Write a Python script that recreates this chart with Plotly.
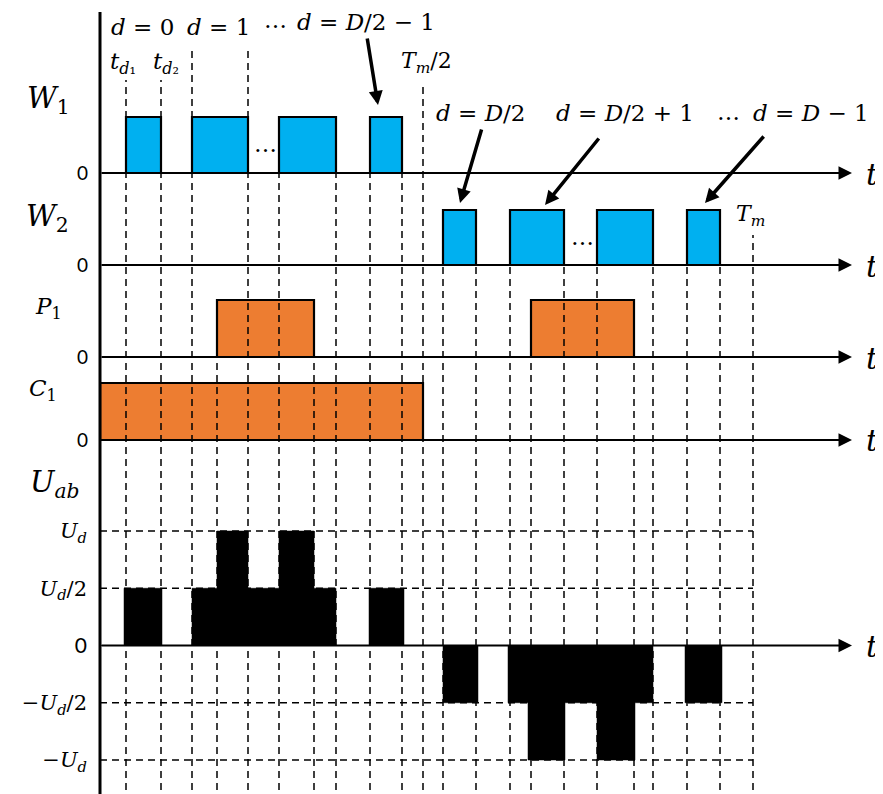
import plotly.graph_objects as go

W, H = 883, 794
OFF = 8            # the page body margin that offsets the figure
AX_PX = 100        # page x of the vertical axis
ML = AX_PX - OFF   # left margin of the figure

# ---------------- data (time units, origin at the vertical axis) ----------------
w1_start = [26, 92, 179, 270]
w1_end = [61, 148, 236, 302]
w2_start = [343, 410, 497, 587]
w2_end = [376, 464, 553, 620]
p1_start = [117, 431]
p1_end = [214, 534]
c1_start = [0]
c1_end = [323]
t_half = 323      # T_m/2
t_m = 653         # T_m
t_axis_end = 752  # end of the time arrows

# U_ab: breakpoints and level (in units of U_d) after each breakpoint
uab_t = [0, 24, 62, 92, 117, 148, 179, 214, 236, 269, 304, 343, 378, 408, 428,
         465, 497, 535, 553, 585, 622, 653]
uab_v = [0, 0.5, 0, 0.5, 1, 0.5, 1, 0.5, 0, 0.5, 0, -0.5, 0, -0.5, -1, -0.5,
         -1, -0.5, 0, -0.5, 0]
uab_tickvals = [1, 0.5, 0, -0.5, -1]
uab_ticktext = ["<i>U</i><sub><i>d</i></sub>", "<i>U</i><sub><i>d</i></sub>/2",
                "<span style='font-family:Lato'>0</span>",
                "−<i>U</i><sub><i>d</i></sub>/2", "−<i>U</i><sub><i>d</i></sub>"]
uab_grid = [1, 0.5, -0.5, -1]

BLUE = "#00B0F0"
ORANGE = "#ED7D31"
SERIF = "DejaVu Serif"
SANS = "Lato"


def xp(px):
    """page pixel x -> paper fraction"""
    return (px - AX_PX) / (W - ML)


def yp(py):
    """page pixel y -> paper fraction"""
    return 1 - (py - OFF) / H


def axis_cfg(py_lo, py_hi, lo, hi, pad=8):
    ppu = (py_lo - py_hi) / (hi - lo)
    return dict(domain=[yp(py_lo + pad), yp(py_hi - pad)],
                range=[lo - pad / ppu, hi + pad / ppu])


# panel geometry: page pixel of level 0 and of level 1
panels = [
    ("y", 173, 117),   # W1
    ("y2", 265, 210),  # W2
    ("y3", 357, 300),  # P1
    ("y4", 440, 383),  # C1
]
uab_cfg = axis_cfg(760, 531, -1, 1)

fig = go.Figure()


def pulses(starts, ends, yref, color):
    for s, e in zip(starts, ends):
        fig.add_trace(go.Scatter(
            x=[s, s, e, e, s], y=[0, 1, 1, 0, 0], mode="lines",
            fill="toself", fillcolor=color,
            line=dict(color="black", width=2.2),
            yaxis=yref, hoverinfo="skip"))


pulses(w1_start, w1_end, "y", BLUE)
pulses(w2_start, w2_end, "y2", BLUE)
pulses(p1_start, p1_end, "y3", ORANGE)
pulses(c1_start, c1_end, "y4", ORANGE)

# U_ab staircase
ux, uy = [uab_t[0]], [0]
for i in range(len(uab_v)):
    ux += [uab_t[i], uab_t[i + 1]]
    uy += [uab_v[i], uab_v[i]]
ux += [uab_t[-1], uab_t[0]]
uy += [0, 0]
fig.add_trace(go.Scatter(x=ux, y=uy, mode="lines", fill="toself",
                         fillcolor="black", line=dict(color="black", width=0.5),
                         yaxis="y5", hoverinfo="skip"))

shapes = []
dash = dict(color="black", width=1.5, dash="7px,5px")
# vertical guide lines
guides = []
for t in w1_start[:1] + w1_end[:1]:
    guides.append((t, yp(80)))
for t in w1_start[1:2] + w1_end[1:2]:
    guides.append((t, yp(50)))
for t in w1_start[2:] + w1_end[2:]:
    guides.append((t, yp(117)))
guides.append((t_half, yp(85)))
for t in w2_start + w2_end:
    guides.append((t, yp(210)))
for t in p1_start + p1_end:
    guides.append((t, yp(300)))
guides.append((t_m, yp(235)))
for t, top in guides:
    shapes.append(dict(type="line", xref="x", yref="paper", x0=t, x1=t,
                       y0=0, y1=top, line=dash, layer="above"))
# U_ab horizontal grid
for lv in uab_grid:
    shapes.append(dict(type="line", xref="x", yref="y5", x0=0, x1=t_m,
                       y0=lv, y1=lv, line=dash, layer="above"))
# main vertical axis
shapes.append(dict(type="line", xref="paper", yref="paper", x0=0, x1=0,
                   y0=0, y1=yp(12), line=dict(color="black", width=3)))

ann = []
# time arrows and 't' labels
for yref in ["y", "y2", "y3", "y4", "y5"]:
    ann.append(dict(xref="x", yref=yref, x=t_axis_end, y=0, axref="x",
                    ayref=yref, ax=0, ay=0, text="", showarrow=True,
                    arrowhead=2, arrowwidth=2, arrowsize=1.35,
                    arrowcolor="black"))
    ann.append(dict(xref="x", yref=yref, x=t_axis_end + 20, y=0,
                    text="<i>t</i>", showarrow=False, yshift=-1,
                    font=dict(family=SERIF, size=30, color="black")))


def label(px, py, text, size=23, family=SERIF):
    ann.append(dict(xref="paper", yref="paper", x=xp(px), y=yp(py),
                    text=text, showarrow=False, xanchor="center",
                    yanchor="middle",
                    font=dict(family=family, size=size, color="black")))


label(142, 27, "<i>d</i> = 0")
label(218, 27, "<i>d</i> = 1")
label(275, 20, "…")
label(366, 22, "<i>d</i> = <i>D</i>/2 − 1")
label(123, 63, "<i>t</i><sub><i>d</i>₁</sub>", 23)
label(166, 63, "<i>t</i><sub><i>d</i>₂</sub>", 23)
label(426, 62, "<i>T</i><sub><i>m</i></sub>/2", 22)
label(480, 113, "<i>d</i> = <i>D</i>/2")
label(625, 113, "<i>d</i> = <i>D</i>/2 + 1")
label(728, 112, "…")
label(811, 113, "<i>d</i> = <i>D</i> − 1")
label(750, 215, "<i>T</i><sub><i>m</i></sub>", 22)
label(265, 144, "…")
label(582, 237, "…")
label(48, 100, "<i>W</i><sub>1</sub>", 29)
label(47, 218, "<i>W</i><sub>2</sub>", 29)
label(48, 308, "<i>P</i><sub>1</sub>", 23)
label(43, 390, "<i>C</i><sub>1</sub>", 23)
label(55, 484, "<i>U</i><sub><i>ab</i></sub>", 29)

# pointer arrows (head page px, tail offset px)
pointers = [((378, 105), (-11, -68)), ((460, 203), (22, -75)),
            ((545, 205), (55, -68)), ((705, 203), (60, -68))]
for (hx, hy), (dx, dy) in pointers:
    ann.append(dict(xref="paper", yref="paper", x=xp(hx), y=yp(hy),
                    ax=dx, ay=dy, text="", showarrow=True, arrowhead=2,
                    arrowwidth=3.5, arrowsize=0.8, arrowcolor="black"))

layout = dict(
    width=W, height=H, margin=dict(l=ML, r=0, t=0, b=0, autoexpand=False),
    plot_bgcolor="white", paper_bgcolor="white", showlegend=False,
    xaxis=dict(range=[0, W - ML], visible=False, domain=[0, 1],
               fixedrange=True, automargin=False),
    shapes=shapes, annotations=ann,
)
names = ["yaxis", "yaxis2", "yaxis3", "yaxis4"]
for name, (yref, py0, py1) in zip(names, panels):
    cfg = axis_cfg(py0, py1, 0, 1)
    layout[name] = dict(domain=cfg["domain"], range=cfg["range"], anchor="x",
                        showgrid=False, zeroline=False, showline=False,
                        ticks="", tickvals=[0], ticktext=["0"],
                        ticklabelstandoff=11, automargin=False,
                        tickfont=dict(family=SANS, size=19, color="black"))
layout["yaxis5"] = dict(domain=uab_cfg["domain"], range=uab_cfg["range"],
                        anchor="x", showgrid=False, zeroline=False,
                        showline=False, ticks="", tickvals=uab_tickvals,
                        ticktext=uab_ticktext, ticklabelstandoff=12,
                        automargin=False,
                        tickfont=dict(family=SERIF, size=21, color="black"))
fig.update_layout(**layout)
fig.write_html("out.html")
